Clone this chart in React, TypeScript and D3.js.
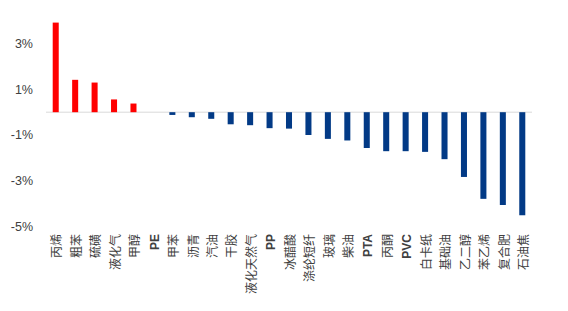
import React from "react";
import * as d3 from "d3";

const categories = ["丙烯", "粗苯", "硫磺", "液化气", "甲醇", "PE", "甲苯", "沥青", "汽油", "干胶", "液化天然气", "PP", "冰醋酸", "涤纶短纤", "玻璃", "柴油", "PTA", "丙酮", "PVC", "白卡纸", "基础油", "乙二醇", "苯乙烯", "复合肥", "石油焦"];
const values = [3.93, 1.42, 1.3, 0.56, 0.38, 0.0, -0.12, -0.22, -0.29, -0.53, -0.57, -0.7, -0.72, -1.0, -1.17, -1.24, -1.57, -1.71, -1.71, -1.74, -2.06, -2.84, -3.8, -4.07, -4.52];
const tickValues = [3, 1, -1, -3, -5];
const tickLabels = ["3%", "1%", "-1%", "-3%", "-5%"];

const W = 568;
const H = 311;

export default function App() {
  const x = d3.scaleBand<string>().domain(categories).range([46, 532]).paddingInner(0.69).paddingOuter(0.345);
  const y = d3.scaleLinear().domain([-5, 3]).range([226.2, 43.8]);
  const y0 = y(0);
  return (
    <svg width={W} height={H} style={{ position: "absolute", left: 0, top: 0, background: "#fff" }}>
      <line x1={46} x2={532} y1={y0} y2={y0} stroke="#d9d9d9" strokeWidth={1} />
      {categories.map((c, i) => {
        const v = values[i];
        const top = Math.min(y(v), y0);
        const h = Math.abs(y(v) - y0);
        return (
          <rect key={c} x={x(c)} y={top} width={x.bandwidth()} height={h} fill={v >= 0 ? "#ff0000" : "#023a86"} />
        );
      })}
      {tickValues.map((t, i) => (
        <text key={t} x={33} y={y(t)} dy="0.35em" textAnchor="end" fontSize={12.5} fill="#404040" fontFamily="'Liberation Sans', Arial, sans-serif">
          {tickLabels[i]}
        </text>
      ))}
      {categories.map((c) => {
        const cx = (x(c) as number) + x.bandwidth() / 2 + 1.5;
        const latin = /^[A-Z]+$/.test(c);
        return (
          <text
            key={c}
            transform={`translate(${cx},234) rotate(-90)`}
            textAnchor="end"
            dy="0.35em"
            fontSize={12}
            fontWeight={latin ? 700 : 400}
            fill="#404040"
            fontFamily={latin ? "'Liberation Sans', Arial, sans-serif" : "'Noto Sans CJK SC', sans-serif"}
          >
            {c}
          </text>
        );
      })}
    </svg>
  );
}
